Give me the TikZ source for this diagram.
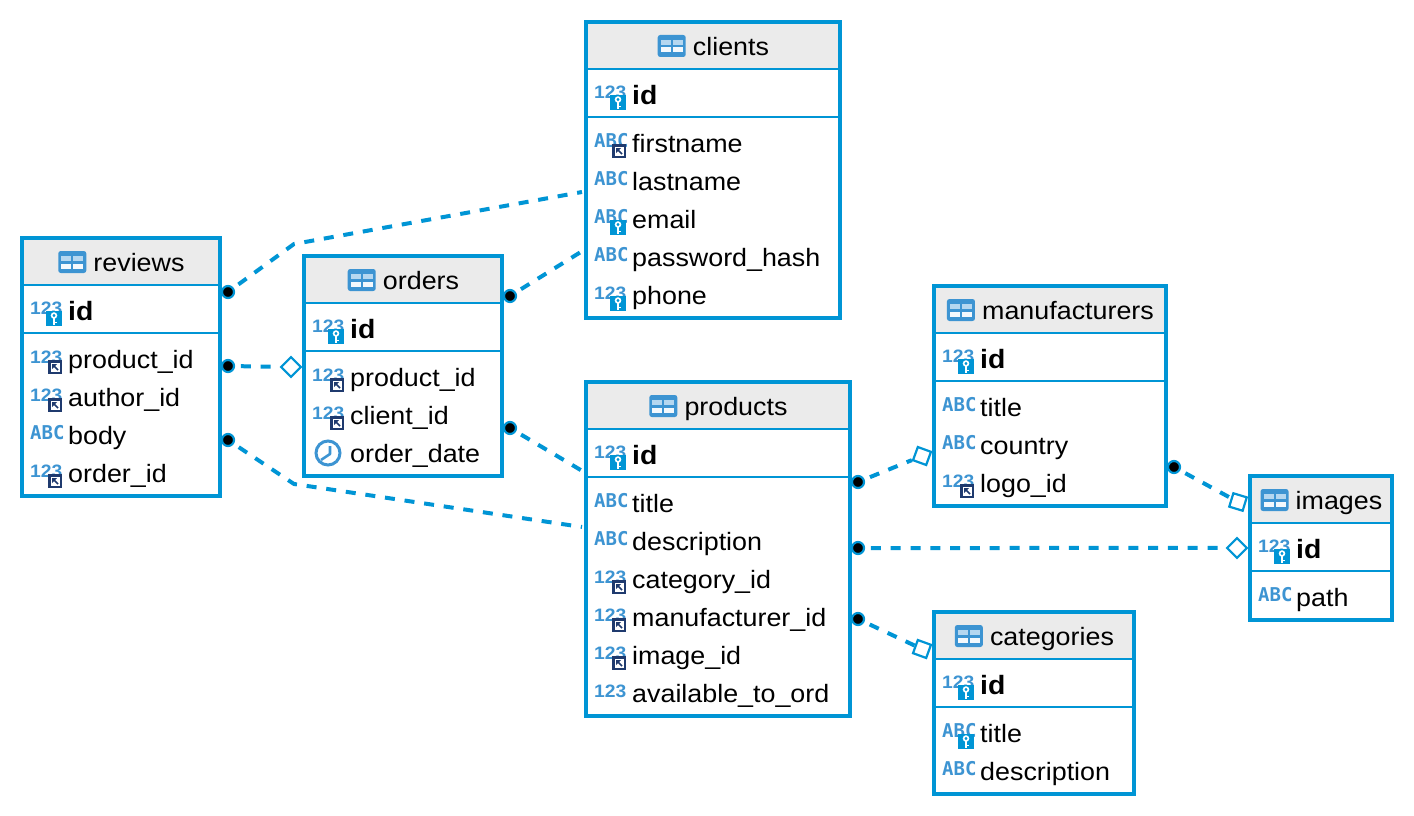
\documentclass[tikz,border=0pt]{standalone}
\usepackage{fontspec}
\setmainfont[FakeStretch=1.07]{Liberation Sans}
\newfontfamily\abcfont{DejaVu Sans Mono}
\usetikzlibrary{shapes.geometric}
\definecolor{lineblue}{HTML}{0095D5}
\definecolor{iconblue}{HTML}{3D94D2}
\definecolor{iconlight}{HTML}{B5D7F0}
\definecolor{navy}{HTML}{1F3A6E}
\definecolor{headgrey}{HTML}{EBEBEB}
\tikzset{
  tablebox/.style={draw=lineblue,line width=4pt,fill=white},
  rule/.style={draw=lineblue,line width=2pt},
  rowtext/.style={inner sep=0pt,font=\fontsize{25.1}{27}\selectfont,text=black},
  boldtext/.style={inner sep=0pt,font=\fontsize{26.5}{28}\selectfont\bfseries,text=black},
  kindtext/.style={inner sep=0pt,anchor=west,font=\fontsize{18}{19}\selectfont\bfseries,text=iconblue},
  abctext/.style={inner sep=0pt,anchor=west,font=\fontsize{19}{19}\abcfont\bfseries,text=iconblue},
  conn/.style={draw=lineblue,line width=4pt,dash pattern=on 10pt off 9.8pt,dash phase=14pt},
  dot/.style={circle,draw=lineblue,line width=2.2pt,fill=black,minimum size=12pt,inner sep=0pt},
  hollow/.style={rectangle,draw=lineblue,line width=2.2pt,fill=white,minimum size=14pt,inner sep=0pt},
}
\newcommand\bkey[2]{\begin{scope}[shift={(#1,#2)}]
  \fill[lineblue] (24,1) rectangle (40,16);
  \draw[white,line width=1.6pt] (32,5.5) circle (2.4);
  \draw[white,line width=1.8pt] (32,8) -- (32,15);
  \draw[white,line width=1.4pt] (32,12.5) -- (35,12.5);
\end{scope}}
\newcommand\bref[2]{\begin{scope}[shift={(#1,#2)}]
  \fill[navy] (26,1) rectangle (40,15);
  \fill[white] (29,4) rectangle (38,13);
  \draw[navy,line width=1.6pt] (31,6) -- (36,11);
  \fill[navy] (30,5) -- (35,5) -- (30,10) -- cycle;
\end{scope}}
\newcommand\bnone[2]{}
\newcommand\bclock[2]{\begin{scope}[shift={(#1,#2)}]
  \draw[iconblue,line width=3pt] (24,0) circle (12);
  \draw[iconblue,line width=2.6pt,line join=round] (26,-7) -- (26,1) -- (17,7);
\end{scope}}
% name, box left, row centre y, badge, text
\newcommand\rowint[5]{%
  \node[kindtext] (#1-k) at ({#2+8},{#3-2}) {123};
  #4{#2}{#3}
  \node[rowtext,anchor=base west] (#1) at ({#2+46},{#3+9}) {#5};}
\newcommand\rowabc[5]{%
  \node[abctext] (#1-k) at ({#2+8},{#3-2}) {ABC};
  #4{#2}{#3}
  \node[rowtext,anchor=base west] (#1) at ({#2+46},{#3+9}) {#5};}
\newcommand\rowclock[4]{%
  \bclock{#2}{#3}
  \node[rowtext,anchor=base west] (#1) at ({#2+46},{#3+9}) {#4};}
\newcommand\rowid[3]{%
  \node[kindtext] (#1-k) at ({#2+8},{#3-2}) {123};
  \bkey{#2}{#3}
  \node[boldtext,anchor=base west] (#1) at ({#2+46},{#3+10.5}) {id};}
% name, x0, y0, x1, y1, title
\newcommand\tbl[6]{%
  \fill[white] (#2,#3) rectangle (#4,#5);
  \fill[headgrey] (#2,#3) rectangle (#4,{#3+47});
  \draw[rule] (#2,{#3+47}) -- (#4,{#3+47});
  \draw[rule] (#2,{#3+95}) -- (#4,{#3+95});
  \node[tablebox,fill=none,minimum width={#4-#2},minimum height={#5-#3},inner sep=0pt,anchor=north west,outer sep=0pt] (#1) at (#2,#3) {};
  \node[rowtext,anchor=base] (#1-title) at ({(#2+#4)/2+18},{#3+33.5}) {#6};
  \begin{scope}[shift={(#1-title.west |- #1.north)},yshift={-24pt}]
    \fill[iconblue,rounded corners=2.5pt] (-35,-11) rectangle (-7,11);
    \fill[iconlight] (-32,-6) rectangle (-22,-1);
    \fill[iconlight] (-20,-6) rectangle (-10,-1);
    \fill[white!85!iconlight] (-32,1.5) rectangle (-22,6.5);
    \fill[white!85!iconlight] (-20,1.5) rectangle (-10,6.5);
  \end{scope}}
\begin{document}
\begin{tikzpicture}[x=1pt,y=-1pt]
\useasboundingbox[fill=white] (0,0) rectangle (1414,816);

\tbl{clients}{586}{22}{840}{318}{clients}
\rowid{cl-id}{586}{94}
\rowabc{cl-first}{586}{143}{\bref}{firstname}
\rowabc{cl-last}{586}{181}{\bnone}{lastname}
\rowabc{cl-email}{586}{219}{\bkey}{email}
\rowabc{cl-pass}{586}{257}{\bnone}{password\_hash}
\rowint{cl-phone}{586}{295}{\bkey}{phone}

\tbl{reviews}{22}{238}{220}{496}{reviews}
\rowid{re-id}{22}{310}
\rowint{re-prod}{22}{359}{\bref}{product\_id}
\rowint{re-auth}{22}{397}{\bref}{author\_id}
\rowabc{re-body}{22}{435}{\bnone}{body}
\rowint{re-order}{22}{473}{\bref}{order\_id}

\tbl{orders}{304}{256}{502}{476}{orders}
\rowid{or-id}{304}{328}
\rowint{or-prod}{304}{377}{\bref}{product\_id}
\rowint{or-client}{304}{415}{\bref}{client\_id}
\rowclock{or-date}{304}{453}{order\_date}

\tbl{products}{586}{382}{850}{716}{products}
\rowid{pr-id}{586}{454}
\rowabc{pr-title}{586}{503}{\bnone}{title}
\rowabc{pr-desc}{586}{541}{\bnone}{description}
\rowint{pr-cat}{586}{579}{\bref}{category\_id}
\rowint{pr-man}{586}{617}{\bref}{manufacturer\_id}
\rowint{pr-img}{586}{655}{\bref}{image\_id}
\rowint{pr-avail}{586}{693}{\bnone}{available\_to\_ord}

\tbl{manufacturers}{934}{286}{1166}{506}{manufacturers}
\rowid{ma-id}{934}{358}
\rowabc{ma-title}{934}{407}{\bnone}{title}
\rowabc{ma-country}{934}{445}{\bnone}{country}
\rowint{ma-logo}{934}{483}{\bref}{logo\_id}

\tbl{images}{1250}{476}{1392}{620}{images}
\rowid{im-id}{1250}{548}
\rowabc{im-path}{1250}{597}{\bnone}{path}

\tbl{categories}{934}{612}{1134}{794}{categories}
\rowid{ca-id}{934}{684}
\rowabc{ca-title}{934}{733}{\bkey}{title}
\rowabc{ca-desc}{934}{771}{\bnone}{description}

% connector ends
\node[dot] (d1) at (228,292) {};
\node[dot] (d2) at (228,366) {};
\node[dot] (d3) at (228,440) {};
\node[dot] (d4) at (510,296) {};
\node[dot] (d5) at (510,428) {};
\node[dot] (d6) at (858,482) {};
\node[dot] (d7) at (858,548) {};
\node[dot] (d8) at (858,619) {};
\node[dot] (d9) at (1174,467) {};
\node[hollow,rotate=45] (h2) at (291,367) {};
\node[hollow,rotate=70] (h6) at (922,456) {};
\node[hollow,rotate=45] (h7) at (1237,548) {};
\node[hollow,rotate=70] (h8) at (922,649) {};
\node[hollow,rotate=73] (h9) at (1238,502) {};
\coordinate (e1) at (582,192);
\coordinate (b1) at (294,244);
\coordinate (e3) at (582,527);
\coordinate (b3) at (294,484);
\coordinate (e4) at (584,250);
\coordinate (e5) at (584,472);

\draw[conn] (d1) -- (b1) -- (e1);
\draw[conn] (d2) -- (h2);
\draw[conn] (d3) -- (b3) -- (e3);
\draw[conn] (d4) -- (e4);
\draw[conn] (d5) -- (e5);
\draw[conn] (d6) -- (h6);
\draw[conn] (d7) -- (h7);
\draw[conn] (d8) -- (h8);
\draw[conn] (d9) -- (h9);
\end{tikzpicture}
\end{document}
